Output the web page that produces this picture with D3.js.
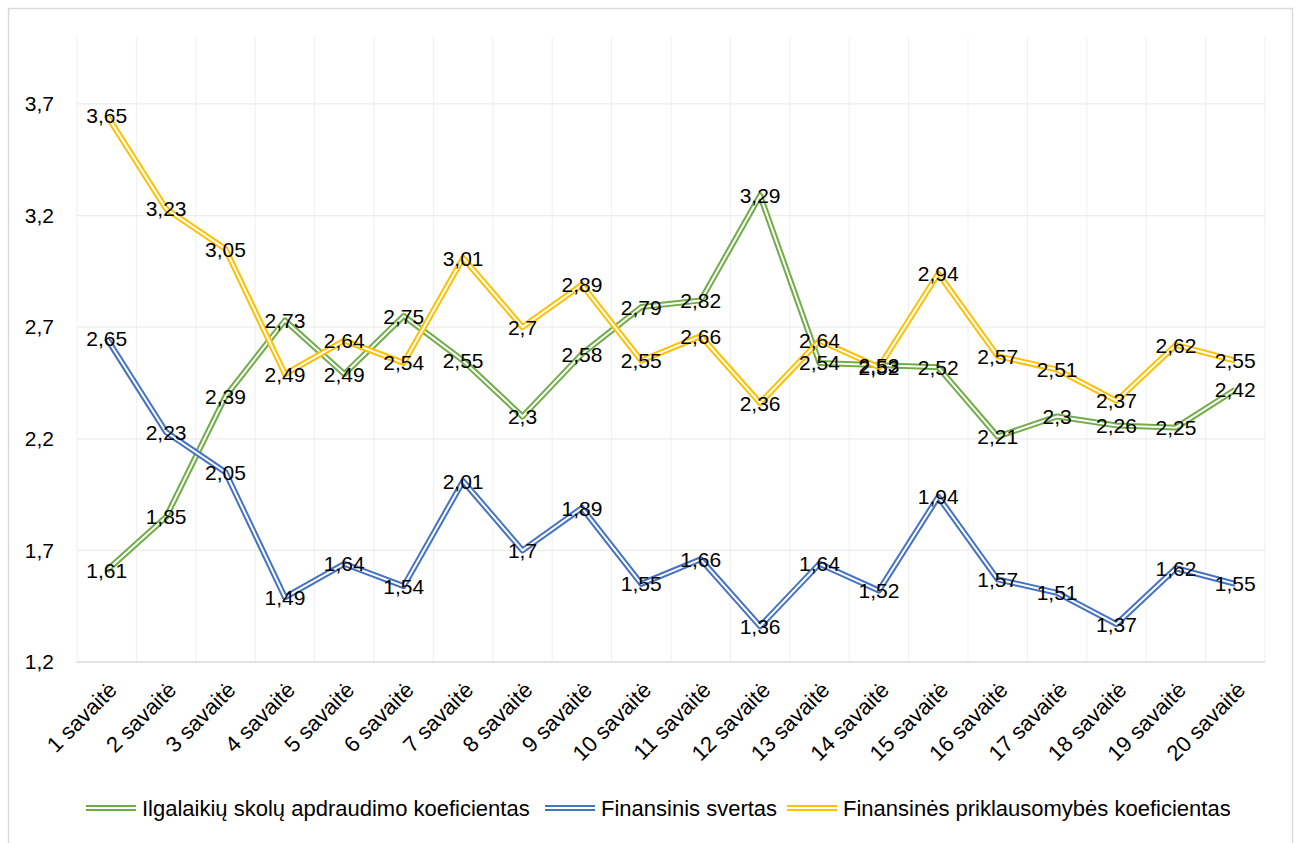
<!DOCTYPE html>
<html>
<head>
<meta charset="utf-8">
<script src="https://cdn.jsdelivr.net/npm/d3@7"></script>
<style>
  body { margin: 0; background: #fff; }
  text { font-family: "Liberation Sans", Arial, sans-serif; fill: #000; }
</style>
</head>
<body>
<div id="chart"></div>
<script>
// savaitės
const weeks = ["1 savaitė", "2 savaitė", "3 savaitė", "4 savaitė", "5 savaitė", "6 savaitė", "7 savaitė",
  "8 savaitė", "9 savaitė", "10 savaitė", "11 savaitė", "12 savaitė", "13 savaitė", "14 savaitė",
  "15 savaitė", "16 savaitė", "17 savaitė", "18 savaitė", "19 savaitė", "20 savaitė"];

const ilgalaikiu = [1.61, 1.85, 2.39, 2.73, 2.49, 2.75, 2.55, 2.3, 2.58, 2.79, 2.82, 3.29, 2.54, 2.53, 2.52, 2.21, 2.3, 2.26, 2.25, 2.42];
const svertas = [2.65, 2.23, 2.05, 1.49, 1.64, 1.54, 2.01, 1.7, 1.89, 1.55, 1.66, 1.36, 1.64, 1.52, 1.94, 1.57, 1.51, 1.37, 1.62, 1.55];
const priklausomybe = [3.65, 3.23, 3.05, 2.49, 2.64, 2.54, 3.01, 2.7, 2.89, 2.55, 2.66, 2.36, 2.64, 2.52, 2.94, 2.57, 2.51, 2.37, 2.62, 2.55];

const seriesNames = ["Ilgalaikių skolų apdraudimo koeficientas", "Finansinis svertas", "Finansinės priklausomybės koeficientas"];
const yTicks = [1.2, 1.7, 2.2, 2.7, 3.2, 3.7];

const series = [
  {name: seriesNames[0], values: ilgalaikiu, color: "#70AD47"},
  {name: seriesNames[1], values: svertas, color: "#4472C4"},
  {name: seriesNames[2], values: priklausomybe, color: "#FFC000"}
];

const W = 1299, H = 843;
const margin = {top: 37, right: 34, bottom: 181, left: 77};
const width = W - margin.left - margin.right;
const height = H - margin.top - margin.bottom;

const fmt = v => String(+v.toFixed(2)).replace(".", ",");

const svg = d3.select("#chart").append("svg")
    .attr("width", W)
    .attr("height", H);

// rėmelis
svg.append("rect")
    .attr("x", 8.5).attr("y", 8.5)
    .attr("width", 1284).attr("height", 850)
    .attr("fill", "none")
    .attr("stroke", "#d9d9d9")
    .attr("stroke-width", 1.5);

const g = svg.append("g")
    .attr("transform", `translate(${margin.left},${margin.top})`);

const x = d3.scaleBand()
    .domain(weeks)
    .range([0, width]);

const y = d3.scaleLinear()
    .domain([1.2, 4.0])
    .range([height, 0]);

// vertikalios tinklelio linijos (kategorijų ribos)
g.append("g").selectAll("line")
    .data(weeks.concat(["end"]))
    .join("line")
    .attr("x1", (d, i) => i * x.bandwidth())
    .attr("x2", (d, i) => i * x.bandwidth())
    .attr("y1", 0)
    .attr("y2", height)
    .attr("stroke", "#efefef")
    .attr("stroke-width", 1);

// horizontalios tinklelio linijos
g.append("g").selectAll("line")
    .data(yTicks.slice(1))
    .join("line")
    .attr("x1", 0).attr("x2", width)
    .attr("y1", d => y(d)).attr("y2", d => y(d))
    .attr("stroke", "#ececec")
    .attr("stroke-width", 1.2);

// ašis apačioje
g.append("line")
    .attr("x1", 0).attr("x2", width)
    .attr("y1", height).attr("y2", height)
    .attr("stroke", "#d9d9d9")
    .attr("stroke-width", 1.5);

// y ašis
const yAxis = g.append("g")
    .call(d3.axisLeft(y).tickValues(yTicks).tickSize(0).tickPadding(23).tickFormat(fmt));
yAxis.select(".domain").remove();
yAxis.selectAll("text")
    .style("font-size", "21px")
    .style("font-family", "'Liberation Sans', Arial, sans-serif");

// x ašis
const xAxis = g.append("g")
    .attr("transform", `translate(0,${height})`)
    .call(d3.axisBottom(x).tickSize(0).tickPadding(0));
xAxis.select(".domain").remove();
xAxis.selectAll("text")
    .style("font-size", "22px")
    .style("font-family", "'Liberation Sans', Arial, sans-serif")
    .attr("text-anchor", "end")
    .attr("transform", "translate(6,24) rotate(-45)")
    .attr("dy", "0.35em")
    .attr("y", 0);

// linijos (dviguba linija)
const line = d3.line()
    .x((d, i) => x(weeks[i]) + x.bandwidth() / 2)
    .y(d => y(d));

series.forEach(s => {
  const sg = g.append("g");
  sg.append("path")
      .attr("d", line(s.values))
      .attr("fill", "none")
      .attr("stroke", s.color)
      .attr("stroke-width", 6)
      .attr("stroke-linejoin", "round");
  sg.append("path")
      .attr("d", line(s.values))
      .attr("fill", "none")
      .attr("stroke", "#fff")
      .attr("stroke-width", 2)
      .attr("stroke-linejoin", "round");
});

// duomenų žymos
series.forEach(s => {
  g.append("g").selectAll("text")
      .data(s.values)
      .join("text")
      .attr("x", (d, i) => x(weeks[i]) + x.bandwidth() / 2)
      .attr("y", d => y(d))
      .attr("dy", "0.36em")
      .attr("text-anchor", "middle")
      .style("font-size", "21px")
      .text(fmt);
});

// legenda
const legendPos = [86, 545, 787];
const legend = svg.append("g").attr("transform", "translate(0,808)");
series.forEach((s, i) => {
  const lg = legend.append("g").attr("transform", `translate(${legendPos[i]},0)`);
  lg.append("line").attr("x1", 0).attr("x2", 50).attr("y1", 0).attr("y2", 0)
      .attr("stroke", s.color).attr("stroke-width", 6);
  lg.append("line").attr("x1", 0).attr("x2", 50).attr("y1", 0).attr("y2", 0)
      .attr("stroke", "#fff").attr("stroke-width", 2);
  lg.append("text")
      .attr("x", 56)
      .attr("dy", "0.36em")
      .style("font-size", "22px")
      .text(s.name);
});
</script>
</body>
</html>
